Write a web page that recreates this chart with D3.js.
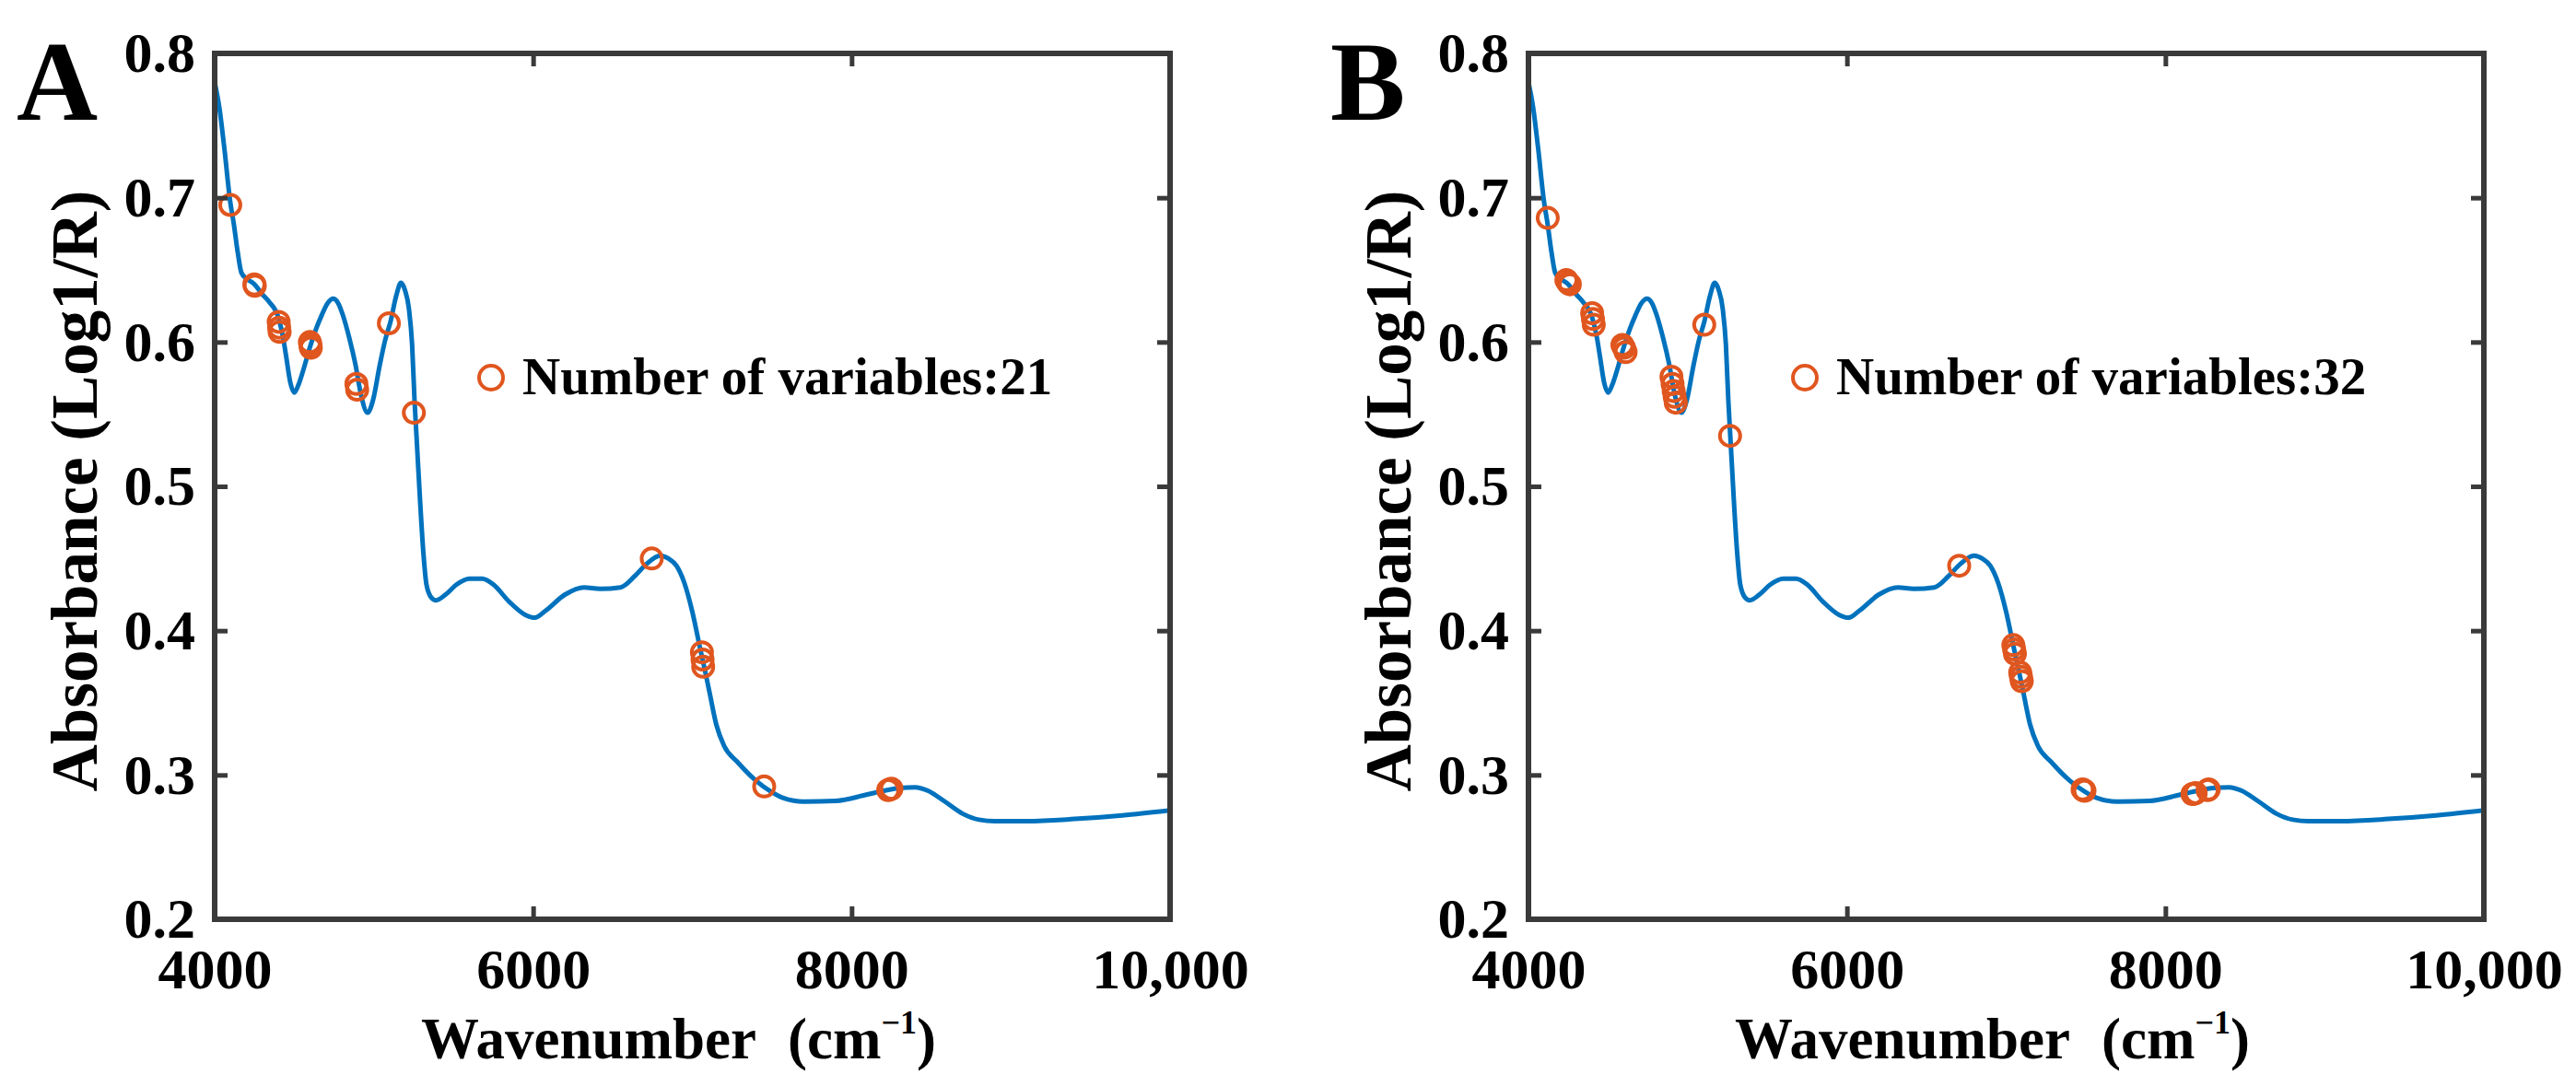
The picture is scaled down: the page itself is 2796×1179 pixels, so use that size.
<!DOCTYPE html>
<html>
<head>
<meta charset="utf-8">
<script src="https://cdn.jsdelivr.net/npm/d3@7"></script>
<style>
  html, body { margin: 0; padding: 0; background: #ffffff; }
  svg { display: block; }
  text { font-family: "Liberation Serif", "Times New Roman", serif; font-weight: bold; fill: #000; }
</style>
</head>
<body>
<svg id="chart" width="2796" height="1179"></svg>
<script>
// ---------- data ----------
const wavenumber = [4000,4030,4060,4098,4120,4145,4168,4200,4250,4300,4341,4400,4430,4449,4475,4500,4525,4555,4600,4640,4670,4710,4744,4775,4804,4845,4883,4920,4960,4995,5035,5070,5104,5140,5170,5195,5220,5240,5255,5270,5290,5310,5330,5360,5390,5450,5520,5600,5680,5750,5850,5950,6010,6080,6200,6320,6420,6549,6640,6710,6798,6850,6900,6950,7000,7050,7080,7110,7150,7200,7283,7400,7500,7572,7700,7900,8092,8200,8300,8400,8480,8580,8700,8800,8900,9100,9400,9700,10000];
const absorbance = [0.780,0.762,0.735,0.697,0.682,0.662,0.648,0.644,0.640,0.633,0.628,0.617,0.603,0.590,0.572,0.565,0.570,0.580,0.597,0.610,0.618,0.627,0.630,0.627,0.619,0.603,0.585,0.563,0.551,0.560,0.583,0.601,0.614,0.632,0.641,0.636,0.623,0.598,0.560,0.530,0.490,0.455,0.432,0.423,0.421,0.425,0.432,0.436,0.436,0.432,0.420,0.411,0.409,0.414,0.425,0.430,0.429,0.430,0.438,0.446,0.452,0.450,0.445,0.433,0.413,0.387,0.372,0.356,0.335,0.320,0.309,0.296,0.288,0.284,0.2815,0.282,0.2863,0.289,0.291,0.2915,0.289,0.282,0.273,0.269,0.268,0.268,0.2695,0.272,0.2755];

// selected variables, panel A (21)
const selAx = [4098,4249,4252,4402,4405,4408,4598,4601,4604,4890,4895,5094,5251,6745,7060,7064,7068,7451,8230,8240,8250];
const selAy = [0.695,0.640,0.639,0.614,0.610,0.607,0.600,0.598,0.596,0.571,0.567,0.613,0.551,0.450,0.385,0.380,0.375,0.292,0.2895,0.290,0.2905];
// selected variables, panel B (32)
const selBx = [4121,4238,4249,4260,4400,4405,4410,4590,4600,4610,4898,4905,4912,4918,4925,5104,5266,6705,7045,7050,7055,7088,7093,7098,7480,7486,7492,8170,8179,8190,8265,8272];
const selBy = [0.686,0.643,0.641,0.640,0.620,0.616,0.612,0.598,0.596,0.593,0.576,0.571,0.566,0.562,0.558,0.612,0.535,0.445,0.390,0.387,0.384,0.371,0.368,0.365,0.290,0.2895,0.289,0.2868,0.287,0.2875,0.2895,0.290];

const xTickValues = [4000, 6000, 8000, 10000];
const xTickLabels = ["4000", "6000", "8000", "10,000"];
const yTickValues = [0.2, 0.3, 0.4, 0.5, 0.6, 0.7, 0.8];
const yTickLabels = ["0.2", "0.3", "0.4", "0.5", "0.6", "0.7", "0.8"];
const panelLetters = ["A", "B"];
const legendTexts = ["Number of variables:21", "Number of variables:32"];
const xTitleMain = "Wavenumber";
const xTitleUnit = "(cm";
const yTitle = "Absorbance (Log1/R)";

// ---------- drawing ----------
const svg = d3.select("#chart");
const LINE = "#0072BD", MARK = "#E0561F", FRAME = "#3a3a3a";

const panels = [
  { left: 233, sx: selAx, sy: selAy },
  { left: 1659, sx: selBx, sy: selBy }
];
const plotTop = 58, plotBottom = 998, pw = 1037;

const spectrum = wavenumber.map((w, i) => ({ x: w, y: absorbance[i] }));

panels.forEach((p, pi) => {
  const x = d3.scaleLinear().domain([4000, 10000]).range([p.left, p.left + pw]);
  const y = d3.scaleLinear().domain([0.2, 0.8]).range([plotBottom, plotTop]);
  const g = svg.append("g");

  const cid = "clip" + pi;
  svg.append("clipPath").attr("id", cid).append("rect")
    .attr("x", p.left).attr("y", plotTop).attr("width", pw).attr("height", plotBottom - plotTop);

  g.append("path").datum(spectrum)
    .attr("clip-path", `url(#${cid})`)
    .attr("fill", "none").attr("stroke", LINE).attr("stroke-width", 5)
    .attr("stroke-linejoin", "round")
    .attr("d", d3.line().x(d => x(d.x)).y(d => y(d.y)).curve(d3.curveMonotoneX));

  g.selectAll("circle.sel").data(p.sx.map((v, i) => [v, p.sy[i]])).enter()
    .append("circle").attr("class", "sel")
    .attr("cx", d => x(d[0])).attr("cy", d => y(d[1])).attr("r", 11)
    .attr("fill", "none").attr("stroke", MARK).attr("stroke-width", 4);

  const fmtX = d => xTickLabels[xTickValues.indexOf(d)];
  const fmtY = d => yTickLabels[yTickValues.findIndex(v => Math.abs(v - d) < 1e-9)];

  const axB = g.append("g").attr("transform", `translate(0,${plotBottom})`)
    .call(d3.axisBottom(x).tickValues(xTickValues).tickFormat(fmtX).tickSizeInner(-14).tickSizeOuter(0).tickPadding(31));
  const axL = g.append("g").attr("transform", `translate(${p.left},0)`)
    .call(d3.axisLeft(y).tickValues(yTickValues).tickFormat(fmtY).tickSizeInner(-14).tickSizeOuter(0).tickPadding(21));
  const axT = g.append("g").attr("transform", `translate(0,${plotTop})`)
    .call(d3.axisTop(x).tickValues(xTickValues).tickFormat("").tickSizeInner(-14).tickSizeOuter(0));
  const axR = g.append("g").attr("transform", `translate(${p.left + pw},0)`)
    .call(d3.axisRight(y).tickValues(yTickValues).tickFormat("").tickSizeInner(-14).tickSizeOuter(0));
  [axB, axL, axT, axR].forEach(a => {
    a.select(".domain").remove();
    a.selectAll(".tick line").attr("stroke", FRAME).attr("stroke-width", 5);
    a.selectAll(".tick text").attr("font-family", "Liberation Serif").attr("font-weight", "bold")
      .attr("font-size", 62).attr("fill", "#000");
  });

  g.append("rect").attr("x", p.left).attr("y", plotTop).attr("width", pw).attr("height", plotBottom - plotTop)
    .attr("fill", "none").attr("stroke", FRAME).attr("stroke-width", 6);

  const xt = g.append("text").attr("x", p.left + pw / 2 - 15).attr("y", 1149)
    .attr("text-anchor", "middle").attr("font-size", 63);
  xt.append("tspan").text(xTitleMain);
  xt.append("tspan").attr("dx", 34).text(xTitleUnit);
  xt.append("tspan").attr("font-size", 36).attr("dy", -27).text("\u22121");
  xt.append("tspan").attr("dy", 27).text(")");

  g.append("text").attr("transform", `translate(${p.left - 128},${(plotTop + plotBottom) / 2 + 5}) rotate(-90)`)
    .attr("text-anchor", "middle").attr("font-size", 71).text(yTitle);

  g.append("text").attr("x", p.left - 215).attr("y", 130).attr("font-size", 122).text(panelLetters[pi]);

  g.append("circle").attr("cx", p.left + 300).attr("cy", 410).attr("r", 13)
    .attr("fill", "none").attr("stroke", MARK).attr("stroke-width", 4);
  g.append("text").attr("x", p.left + 334).attr("y", 428).attr("font-size", 57).text(legendTexts[pi]);
});
</script>
</body>
</html>
